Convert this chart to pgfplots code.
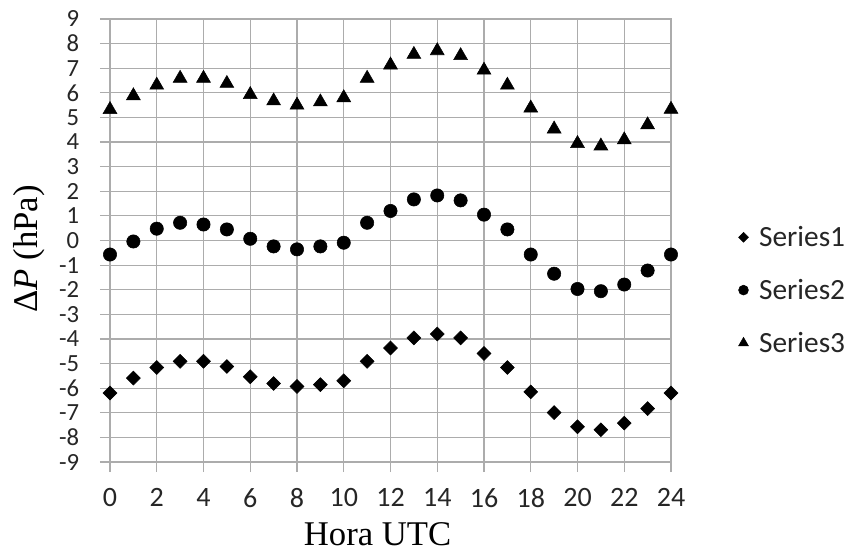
\documentclass[border=0pt]{standalone}
\usepackage{fontspec}
\setmainfont{Liberation Serif}
\newfontfamily\calibri{Carlito}
\usepackage{pgfplots}
\pgfplotsset{compat=1.18}
\definecolor{gridgray}{RGB}{172,172,172}
\begin{document}
\begin{tikzpicture}
\useasboundingbox (-82.5pt,-69pt) rectangle (556.5pt,346.5pt);
\begin{axis}[
  at={(0,0)}, anchor=south west,
  scale only axis, width=420.75pt, height=332.25pt,
  xmin=0, xmax=24, ymin=-9, ymax=9,
  xtick={0,2,...,24},
  xticklabels={0,2,4,6,8,10,12,14,16,18,20,22,24},
  ytick={-9,-8,...,9},
  yticklabels={-9,-8,-7,-6,-5,-4,-3,-2,-1,0,1,2,3,4,5,6,7,8,9},
  xtick pos=bottom, ytick pos=left,
  tick align=outside, major tick length=7.5pt,
  tick style={gridgray, line width=0.9pt},
  grid=major, major grid style={gridgray, line width=0.9pt},
  axis line style={gridgray, line width=0.9pt},
  xticklabel style={font=\calibri\fontsize{21}{24}\selectfont, text=black!85, anchor=north, inner sep=0pt, yshift=-12pt},
  yticklabel style={font=\calibri\fontsize{18.5}{21}\selectfont, text=black!85, anchor=east, inner sep=0pt, xshift=-15.4pt},
  xlabel={Hora UTC},
  ylabel={Δ\textit{P} (hPa)},
  xlabel style={font=\fontsize{26}{30}\selectfont, at={(axis description cs:0.477,-0.164)}, anchor=center, inner sep=0pt},
  ylabel style={font=\fontsize{26}{30}\selectfont, at={(axis description cs:-0.1444,0.481)}, anchor=center, inner sep=0pt},
  clip=false,
  legend style={draw=none, at={(1.12,0.388)}, anchor=west, font=\calibri\fontsize{22}{26}\selectfont, text=black!85, row sep=19pt, inner sep=0pt, /tikz/every odd column/.append style={column sep=6pt}},
  legend image code/.code={\draw[#1] plot coordinates {(0pt,0pt)};},
  legend cell align=left,
]
\addplot[only marks, mark=square*, mark size=3.7pt, mark options={rotate=45, fill=black, draw=black}, forget plot] coordinates {
(0,-6.2) (1,-5.59) (2,-5.16) (3,-4.91) (4,-4.91) (5,-5.12) (6,-5.54) (7,-5.81) (8,-5.93) (9,-5.86) (10,-5.7) (11,-4.91) (12,-4.37) (13,-3.96) (14,-3.8) (15,-3.96) (16,-4.59) (17,-5.16) (18,-6.15) (19,-6.99) (20,-7.57) (21,-7.69) (22,-7.42) (23,-6.83) (24,-6.2)};
\addplot[only marks, mark=*, mark size=5pt, mark options={fill=black, draw=black}, forget plot] coordinates {
(0,-0.57) (1,-0.04) (2,0.48) (3,0.72) (4,0.65) (5,0.45) (6,0.07) (7,-0.24) (8,-0.36) (9,-0.24) (10,-0.09) (11,0.72) (12,1.2) (13,1.67) (14,1.83) (15,1.63) (16,1.05) (17,0.45) (18,-0.57) (19,-1.35) (20,-1.97) (21,-2.06) (22,-1.79) (23,-1.22) (24,-0.57)};
\addplot[only marks, mark=triangle*, mark size=6pt, mark options={fill=black, draw=black}, forget plot] coordinates {
(0,5.32) (1,5.88) (2,6.31) (3,6.59) (4,6.59) (5,6.38) (6,5.93) (7,5.67) (8,5.5) (9,5.63) (10,5.8) (11,6.59) (12,7.13) (13,7.56) (14,7.71) (15,7.51) (16,6.92) (17,6.31) (18,5.38) (19,4.53) (20,3.94) (21,3.84) (22,4.09) (23,4.7) (24,5.33)};
\addlegendimage{only marks, mark=square*, mark size=2.6pt, mark options={rotate=45, fill=black, draw=black}}
\addlegendentry{Series1}
\addlegendimage{only marks, mark=*, mark size=3.7pt, mark options={fill=black, draw=black}}
\addlegendentry{Series2}
\addlegendimage{only marks, mark=triangle*, mark size=4.2pt, mark options={fill=black, draw=black}}
\addlegendentry{Series3}
\end{axis}
\end{tikzpicture}
\end{document}
